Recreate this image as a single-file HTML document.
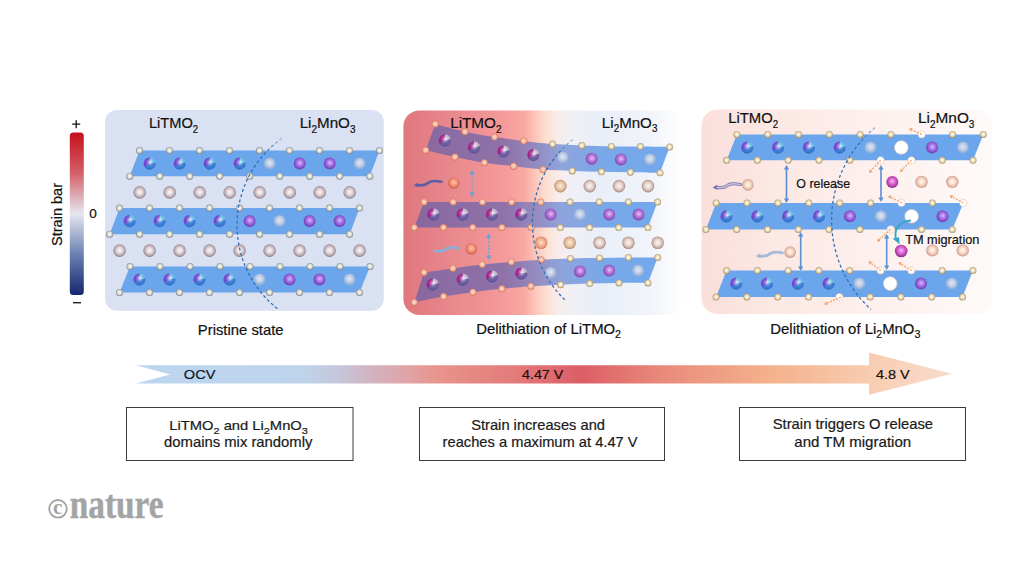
<!DOCTYPE html><html><head><meta charset="utf-8"><style>html,body{margin:0;padding:0;background:#fff;overflow:hidden;width:1024px;height:576px;}svg{display:block;}text{font-family:"Liberation Sans",sans-serif;}</style></head><body>
<svg width="1024" height="576" viewBox="0 0 1024 576">
<defs>
<radialGradient id="gO" cx="50%" cy="48%" r="55%"><stop offset="0" stop-color="#f6f6f2"/><stop offset="0.4" stop-color="#e8eae4"/><stop offset="0.7" stop-color="#b8bab4"/><stop offset="1" stop-color="#727474"/></radialGradient>
<radialGradient id="gOc" cx="50%" cy="48%" r="55%"><stop offset="0" stop-color="#fffcf0"/><stop offset="0.4" stop-color="#f2e8cc"/><stop offset="0.72" stop-color="#d0ba90"/><stop offset="1" stop-color="#9a8468"/></radialGradient>
<radialGradient id="gOo" cx="50%" cy="48%" r="55%"><stop offset="0" stop-color="#fcd8cc"/><stop offset="0.45" stop-color="#f6c4b0"/><stop offset="0.7" stop-color="#eca084"/><stop offset="0.88" stop-color="#d87c5e"/><stop offset="1" stop-color="#c47058"/></radialGradient>
<radialGradient id="gShade" cx="52%" cy="40%" r="60%"><stop offset="0" stop-color="#fff" stop-opacity="0.75"/><stop offset="0.35" stop-color="#fff" stop-opacity="0.25"/><stop offset="0.8" stop-color="#000" stop-opacity="0"/><stop offset="1" stop-color="#102060" stop-opacity="0.3"/></radialGradient>
<radialGradient id="gP" cx="52%" cy="45%" r="55%"><stop offset="0" stop-color="#d4bcff"/><stop offset="0.5" stop-color="#a06ce2"/><stop offset="1" stop-color="#6c38b4"/></radialGradient>
<radialGradient id="gLi2" cx="50%" cy="48%" r="55%"><stop offset="0" stop-color="#faf2f0"/><stop offset="0.4" stop-color="#ecdcd6"/><stop offset="0.72" stop-color="#ccb2aa"/><stop offset="1" stop-color="#927a74"/></radialGradient>
<radialGradient id="gLit" cx="50%" cy="48%" r="55%"><stop offset="0" stop-color="#fcecdc"/><stop offset="0.4" stop-color="#f0d0b4"/><stop offset="0.72" stop-color="#d8b090"/><stop offset="1" stop-color="#a88068"/></radialGradient>
<radialGradient id="gPm" cx="52%" cy="45%" r="55%"><stop offset="0" stop-color="#e8c0f8"/><stop offset="0.5" stop-color="#b276d8"/><stop offset="1" stop-color="#7e44ac"/></radialGradient>
<radialGradient id="gPale" cx="50%" cy="45%" r="50%"><stop offset="0" stop-color="#dde8f8"/><stop offset="0.6" stop-color="#bccbe4"/><stop offset="1" stop-color="#a4b4d0" stop-opacity="0.6"/></radialGradient>
<radialGradient id="gLi" cx="50%" cy="48%" r="55%"><stop offset="0" stop-color="#fbf4f6"/><stop offset="0.35" stop-color="#e8dee2"/><stop offset="0.7" stop-color="#bcaeb4"/><stop offset="1" stop-color="#7e7078"/></radialGradient>
<radialGradient id="gLip" cx="50%" cy="48%" r="55%"><stop offset="0" stop-color="#fff8e8"/><stop offset="0.35" stop-color="#fbe4d4"/><stop offset="0.7" stop-color="#eabcaa"/><stop offset="1" stop-color="#b88a84"/></radialGradient>
<radialGradient id="gLio" cx="50%" cy="48%" r="55%"><stop offset="0" stop-color="#fde0cc"/><stop offset="0.4" stop-color="#f6bc9c"/><stop offset="0.75" stop-color="#e49878"/><stop offset="1" stop-color="#b87058"/></radialGradient>
<radialGradient id="gLir" cx="50%" cy="45%" r="55%"><stop offset="0" stop-color="#ffc4ac"/><stop offset="0.5" stop-color="#f4947a"/><stop offset="0.85" stop-color="#dc6c54"/><stop offset="1" stop-color="#c05848"/></radialGradient>
<radialGradient id="gMag" cx="50%" cy="45%" r="55%"><stop offset="0" stop-color="#ffb4ff"/><stop offset="0.4" stop-color="#e070d8"/><stop offset="0.8" stop-color="#b03ca4"/><stop offset="1" stop-color="#8a2a84"/></radialGradient>
<linearGradient id="gBar" x1="0" y1="0" x2="0" y2="1"><stop offset="0" stop-color="#c60f1c"/><stop offset="0.25" stop-color="#d46068"/><stop offset="0.5" stop-color="#e6e6f0"/><stop offset="0.75" stop-color="#6a80b0"/><stop offset="1" stop-color="#13276e"/></linearGradient>
<linearGradient id="gP2" gradientUnits="userSpaceOnUse" x1="403" y1="0" x2="685" y2="0"><stop offset="0" stop-color="#df777e"/><stop offset="0.167" stop-color="#e8888c"/><stop offset="0.344" stop-color="#f4989a"/><stop offset="0.43" stop-color="#f9a8a2"/><stop offset="0.47" stop-color="#fcc6ba"/><stop offset="0.51" stop-color="#fde0d4"/><stop offset="0.55" stop-color="#f9ecea"/><stop offset="0.6" stop-color="#f0f0f6"/><stop offset="0.7" stop-color="#e9eef8"/><stop offset="0.88" stop-color="#f1f4fa"/><stop offset="0.97" stop-color="#fdfdfe"/><stop offset="1" stop-color="#ffffff"/></linearGradient>
<linearGradient id="gP3" gradientUnits="userSpaceOnUse" x1="702" y1="0" x2="992" y2="0"><stop offset="0" stop-color="#fbdfdb"/><stop offset="0.25" stop-color="#fce8e4"/><stop offset="0.5" stop-color="#fdeeeb"/><stop offset="0.75" stop-color="#fdf4f2"/><stop offset="1" stop-color="#fefaf9"/></linearGradient>
<linearGradient id="gSlab2" gradientUnits="userSpaceOnUse" x1="403" y1="0" x2="685" y2="0"><stop offset="0" stop-color="#88669e"/><stop offset="0.36" stop-color="#8e72a8"/><stop offset="0.46" stop-color="#9488bc"/><stop offset="0.56" stop-color="#8ea4dc"/><stop offset="0.72" stop-color="#78a8ea"/><stop offset="1" stop-color="#70a8ee"/></linearGradient>
<linearGradient id="gArrow" gradientUnits="userSpaceOnUse" x1="136" y1="0" x2="952" y2="0"><stop offset="0" stop-color="#bcd5ee"/><stop offset="0.2" stop-color="#bed4ec"/><stop offset="0.245" stop-color="#c4c8dc"/><stop offset="0.29" stop-color="#d2b2c0"/><stop offset="0.33" stop-color="#e0a4a8"/><stop offset="0.37" stop-color="#e8948c"/><stop offset="0.46" stop-color="#e37c7c"/><stop offset="0.545" stop-color="#dc5e66"/><stop offset="0.65" stop-color="#e98c7c"/><stop offset="0.77" stop-color="#f3b08a"/><stop offset="0.85" stop-color="#f6c2a2"/><stop offset="0.92" stop-color="#f8d0b8"/><stop offset="1" stop-color="#f9dccc"/></linearGradient>

</defs>
<rect width="1024" height="576" fill="#fff"/>
<rect x="69.8" y="132.5" width="14" height="162.5" rx="3.5" fill="url(#gBar)"/>
<path d="M72.2,124.2 H80.2 M76.2,120.2 V128.2" stroke="#111" stroke-width="1.3"/>
<path d="M73,302.7 H81" stroke="#222" stroke-width="1.4"/>
<rect x="105" y="110" width="278.8" height="200.8" rx="12" fill="#d9e1f3"/>
<path d="M139.5,150.5 L379.5,150.5 L369.7,176.2 L129.7,176.2 Z" fill="#6ba6ec"/>
<path d="M149.7,163.5 L149.70,157.50 A6,6 0 0 1 155.61,162.46 Z" fill="#6cc2ee"/>
<path d="M149.7,163.5 L155.61,162.46 A6,6 0 0 1 144.61,166.68 Z" fill="#3a7ede"/>
<path d="M149.7,163.5 L144.61,166.68 A6,6 0 0 1 149.70,157.50 Z" fill="#7448d8"/>
<circle cx="149.7" cy="163.5" r="6" fill="url(#gShade)"/>
<path d="M179.7,163.5 L179.70,157.50 A6,6 0 0 1 185.61,162.46 Z" fill="#6cc2ee"/>
<path d="M179.7,163.5 L185.61,162.46 A6,6 0 0 1 174.61,166.68 Z" fill="#3a7ede"/>
<path d="M179.7,163.5 L174.61,166.68 A6,6 0 0 1 179.70,157.50 Z" fill="#7448d8"/>
<circle cx="179.7" cy="163.5" r="6" fill="url(#gShade)"/>
<path d="M209.7,163.5 L209.70,157.50 A6,6 0 0 1 215.61,162.46 Z" fill="#6cc2ee"/>
<path d="M209.7,163.5 L215.61,162.46 A6,6 0 0 1 204.61,166.68 Z" fill="#3a7ede"/>
<path d="M209.7,163.5 L204.61,166.68 A6,6 0 0 1 209.70,157.50 Z" fill="#7448d8"/>
<circle cx="209.7" cy="163.5" r="6" fill="url(#gShade)"/>
<path d="M239.7,163.5 L239.70,157.50 A6,6 0 0 1 245.61,162.46 Z" fill="#6cc2ee"/>
<path d="M239.7,163.5 L245.61,162.46 A6,6 0 0 1 234.61,166.68 Z" fill="#3a7ede"/>
<path d="M239.7,163.5 L234.61,166.68 A6,6 0 0 1 239.70,157.50 Z" fill="#7448d8"/>
<circle cx="239.7" cy="163.5" r="6" fill="url(#gShade)"/>
<circle cx="269.7" cy="163.5" r="6" fill="url(#gPale)"/>
<circle cx="299.7" cy="163.5" r="6" fill="url(#gP)"/>
<circle cx="329.7" cy="163.5" r="6" fill="url(#gP)"/>
<circle cx="359.7" cy="163.5" r="6" fill="url(#gPale)"/>
<circle cx="139.5" cy="150.5" r="3.5" fill="url(#gO)"/>
<circle cx="169.5" cy="150.5" r="3.5" fill="url(#gO)"/>
<circle cx="199.5" cy="150.5" r="3.5" fill="url(#gO)"/>
<circle cx="229.5" cy="150.5" r="3.5" fill="url(#gO)"/>
<circle cx="259.5" cy="150.5" r="3.5" fill="url(#gO)"/>
<circle cx="289.5" cy="150.5" r="3.5" fill="url(#gO)"/>
<circle cx="319.5" cy="150.5" r="3.5" fill="url(#gO)"/>
<circle cx="349.5" cy="150.5" r="3.5" fill="url(#gO)"/>
<circle cx="379.5" cy="150.5" r="3.5" fill="url(#gO)"/>
<circle cx="129.7" cy="176.2" r="3.5" fill="url(#gO)"/>
<circle cx="159.7" cy="176.2" r="3.5" fill="url(#gO)"/>
<circle cx="189.7" cy="176.2" r="3.5" fill="url(#gO)"/>
<circle cx="219.7" cy="176.2" r="3.5" fill="url(#gO)"/>
<circle cx="249.7" cy="176.2" r="3.5" fill="url(#gO)"/>
<circle cx="279.7" cy="176.2" r="3.5" fill="url(#gO)"/>
<circle cx="309.7" cy="176.2" r="3.5" fill="url(#gO)"/>
<circle cx="339.7" cy="176.2" r="3.5" fill="url(#gO)"/>
<circle cx="369.7" cy="176.2" r="3.5" fill="url(#gO)"/>
<circle cx="139.7" cy="192.4" r="6.3" fill="url(#gLi)"/>
<circle cx="169.7" cy="192.4" r="6.3" fill="url(#gLi)"/>
<circle cx="199.7" cy="192.4" r="6.3" fill="url(#gLi)"/>
<circle cx="229.7" cy="192.4" r="6.3" fill="url(#gLi)"/>
<circle cx="259.7" cy="192.4" r="6.3" fill="url(#gLi)"/>
<circle cx="289.7" cy="192.4" r="6.3" fill="url(#gLi)"/>
<circle cx="319.7" cy="192.4" r="6.3" fill="url(#gLi)"/>
<circle cx="349.7" cy="192.4" r="6.3" fill="url(#gLi)"/>
<path d="M119.5,208.1 L359.5,208.1 L349.6,234.2 L109.6,234.2 Z" fill="#6ba6ec"/>
<path d="M129.6,221 L129.60,215.00 A6,6 0 0 1 135.51,219.96 Z" fill="#6cc2ee"/>
<path d="M129.6,221 L135.51,219.96 A6,6 0 0 1 124.51,224.18 Z" fill="#3a7ede"/>
<path d="M129.6,221 L124.51,224.18 A6,6 0 0 1 129.60,215.00 Z" fill="#7448d8"/>
<circle cx="129.6" cy="221" r="6" fill="url(#gShade)"/>
<path d="M159.6,221 L159.60,215.00 A6,6 0 0 1 165.51,219.96 Z" fill="#6cc2ee"/>
<path d="M159.6,221 L165.51,219.96 A6,6 0 0 1 154.51,224.18 Z" fill="#3a7ede"/>
<path d="M159.6,221 L154.51,224.18 A6,6 0 0 1 159.60,215.00 Z" fill="#7448d8"/>
<circle cx="159.6" cy="221" r="6" fill="url(#gShade)"/>
<path d="M189.6,221 L189.60,215.00 A6,6 0 0 1 195.51,219.96 Z" fill="#6cc2ee"/>
<path d="M189.6,221 L195.51,219.96 A6,6 0 0 1 184.51,224.18 Z" fill="#3a7ede"/>
<path d="M189.6,221 L184.51,224.18 A6,6 0 0 1 189.60,215.00 Z" fill="#7448d8"/>
<circle cx="189.6" cy="221" r="6" fill="url(#gShade)"/>
<path d="M219.6,221 L219.60,215.00 A6,6 0 0 1 225.51,219.96 Z" fill="#6cc2ee"/>
<path d="M219.6,221 L225.51,219.96 A6,6 0 0 1 214.51,224.18 Z" fill="#3a7ede"/>
<path d="M219.6,221 L214.51,224.18 A6,6 0 0 1 219.60,215.00 Z" fill="#7448d8"/>
<circle cx="219.6" cy="221" r="6" fill="url(#gShade)"/>
<circle cx="249.6" cy="221" r="6" fill="url(#gP)"/>
<circle cx="279.6" cy="221" r="6" fill="url(#gPale)"/>
<circle cx="309.6" cy="221" r="6" fill="url(#gP)"/>
<circle cx="339.6" cy="221" r="6" fill="url(#gP)"/>
<circle cx="119.5" cy="208.1" r="3.5" fill="url(#gO)"/>
<circle cx="149.5" cy="208.1" r="3.5" fill="url(#gO)"/>
<circle cx="179.5" cy="208.1" r="3.5" fill="url(#gO)"/>
<circle cx="209.5" cy="208.1" r="3.5" fill="url(#gO)"/>
<circle cx="239.5" cy="208.1" r="3.5" fill="url(#gO)"/>
<circle cx="269.5" cy="208.1" r="3.5" fill="url(#gO)"/>
<circle cx="299.5" cy="208.1" r="3.5" fill="url(#gO)"/>
<circle cx="329.5" cy="208.1" r="3.5" fill="url(#gO)"/>
<circle cx="359.5" cy="208.1" r="3.5" fill="url(#gO)"/>
<circle cx="109.6" cy="234.2" r="3.5" fill="url(#gO)"/>
<circle cx="139.6" cy="234.2" r="3.5" fill="url(#gO)"/>
<circle cx="169.6" cy="234.2" r="3.5" fill="url(#gO)"/>
<circle cx="199.6" cy="234.2" r="3.5" fill="url(#gO)"/>
<circle cx="229.6" cy="234.2" r="3.5" fill="url(#gO)"/>
<circle cx="259.6" cy="234.2" r="3.5" fill="url(#gO)"/>
<circle cx="289.6" cy="234.2" r="3.5" fill="url(#gO)"/>
<circle cx="319.6" cy="234.2" r="3.5" fill="url(#gO)"/>
<circle cx="349.6" cy="234.2" r="3.5" fill="url(#gO)"/>
<circle cx="119.6" cy="250.6" r="6.3" fill="url(#gLi)"/>
<circle cx="149.6" cy="250.6" r="6.3" fill="url(#gLi)"/>
<circle cx="179.6" cy="250.6" r="6.3" fill="url(#gLi)"/>
<circle cx="209.6" cy="250.6" r="6.3" fill="url(#gLi)"/>
<circle cx="239.6" cy="250.6" r="6.3" fill="url(#gLi)"/>
<circle cx="269.6" cy="250.6" r="6.3" fill="url(#gLi)"/>
<circle cx="299.6" cy="250.6" r="6.3" fill="url(#gLi)"/>
<circle cx="329.6" cy="250.6" r="6.3" fill="url(#gLi)"/>
<circle cx="359.6" cy="250.6" r="6.3" fill="url(#gLi)"/>
<path d="M130,266.5 L370,266.5 L359.5,292.5 L119.5,292.5 Z" fill="#6ba6ec"/>
<path d="M139.5,279.4 L139.50,273.40 A6,6 0 0 1 145.41,278.36 Z" fill="#6cc2ee"/>
<path d="M139.5,279.4 L145.41,278.36 A6,6 0 0 1 134.41,282.58 Z" fill="#3a7ede"/>
<path d="M139.5,279.4 L134.41,282.58 A6,6 0 0 1 139.50,273.40 Z" fill="#7448d8"/>
<circle cx="139.5" cy="279.4" r="6" fill="url(#gShade)"/>
<path d="M169.5,279.4 L169.50,273.40 A6,6 0 0 1 175.41,278.36 Z" fill="#6cc2ee"/>
<path d="M169.5,279.4 L175.41,278.36 A6,6 0 0 1 164.41,282.58 Z" fill="#3a7ede"/>
<path d="M169.5,279.4 L164.41,282.58 A6,6 0 0 1 169.50,273.40 Z" fill="#7448d8"/>
<circle cx="169.5" cy="279.4" r="6" fill="url(#gShade)"/>
<path d="M199.5,279.4 L199.50,273.40 A6,6 0 0 1 205.41,278.36 Z" fill="#6cc2ee"/>
<path d="M199.5,279.4 L205.41,278.36 A6,6 0 0 1 194.41,282.58 Z" fill="#3a7ede"/>
<path d="M199.5,279.4 L194.41,282.58 A6,6 0 0 1 199.50,273.40 Z" fill="#7448d8"/>
<circle cx="199.5" cy="279.4" r="6" fill="url(#gShade)"/>
<path d="M229.5,279.4 L229.50,273.40 A6,6 0 0 1 235.41,278.36 Z" fill="#6cc2ee"/>
<path d="M229.5,279.4 L235.41,278.36 A6,6 0 0 1 224.41,282.58 Z" fill="#3a7ede"/>
<path d="M229.5,279.4 L224.41,282.58 A6,6 0 0 1 229.50,273.40 Z" fill="#7448d8"/>
<circle cx="229.5" cy="279.4" r="6" fill="url(#gShade)"/>
<circle cx="259.5" cy="279.4" r="6" fill="url(#gPale)"/>
<circle cx="289.5" cy="279.4" r="6" fill="url(#gP)"/>
<circle cx="319.5" cy="279.4" r="6" fill="url(#gP)"/>
<circle cx="349.5" cy="279.4" r="6" fill="url(#gPale)"/>
<circle cx="130" cy="266.5" r="3.5" fill="url(#gO)"/>
<circle cx="160" cy="266.5" r="3.5" fill="url(#gO)"/>
<circle cx="190" cy="266.5" r="3.5" fill="url(#gO)"/>
<circle cx="220" cy="266.5" r="3.5" fill="url(#gO)"/>
<circle cx="250" cy="266.5" r="3.5" fill="url(#gO)"/>
<circle cx="280" cy="266.5" r="3.5" fill="url(#gO)"/>
<circle cx="310" cy="266.5" r="3.5" fill="url(#gO)"/>
<circle cx="340" cy="266.5" r="3.5" fill="url(#gO)"/>
<circle cx="370" cy="266.5" r="3.5" fill="url(#gO)"/>
<circle cx="119.5" cy="292.5" r="3.5" fill="url(#gO)"/>
<circle cx="149.5" cy="292.5" r="3.5" fill="url(#gO)"/>
<circle cx="179.5" cy="292.5" r="3.5" fill="url(#gO)"/>
<circle cx="209.5" cy="292.5" r="3.5" fill="url(#gO)"/>
<circle cx="239.5" cy="292.5" r="3.5" fill="url(#gO)"/>
<circle cx="269.5" cy="292.5" r="3.5" fill="url(#gO)"/>
<circle cx="299.5" cy="292.5" r="3.5" fill="url(#gO)"/>
<circle cx="329.5" cy="292.5" r="3.5" fill="url(#gO)"/>
<circle cx="359.5" cy="292.5" r="3.5" fill="url(#gO)"/>
<linearGradient id="ga1" gradientUnits="userSpaceOnUse" x1="0" y1="138.3" x2="0" y2="152.3"><stop offset="0" stop-color="#9cbce0"/><stop offset="1" stop-color="#2f6db5"/></linearGradient>
<path d="M282.0,138.3 A106.4,106.4 0 0 0 278.4,309.4" fill="none" stroke="url(#ga1)" stroke-width="1.25" stroke-dasharray="3 2.4"/>
<rect x="403.4" y="110.4" width="282" height="204.6" rx="16" fill="url(#gP2)"/>
<path d="M435.3,124.1 C440.2,125.4 455.0,129.6 464.9,131.8 C474.8,134.0 484.7,135.6 494.5,137.1 C504.3,138.6 514.0,139.7 523.7,140.9 C533.4,142.1 542.9,143.3 552.6,144.1 C562.3,144.9 572.0,145.1 581.8,145.5 C591.6,145.9 601.6,146.2 611.4,146.4 C621.2,146.6 630.7,146.5 640.4,146.6 C650.1,146.7 664.7,146.9 669.6,147.0 L660.0,172.8 C655.1,172.7 640.2,172.4 630.4,172.2 C620.6,172.0 611.1,172.0 601.4,171.8 C591.7,171.6 581.9,171.3 572.2,170.9 C562.5,170.5 552.8,170.3 543.0,169.5 C533.2,168.7 523.4,167.3 513.6,166.2 C503.8,165.1 494.2,164.2 484.4,162.7 C474.6,161.2 464.7,159.1 454.9,157.0 C445.1,154.9 430.6,151.4 425.7,150.3 Z" fill="url(#gSlab2)"/>
<path d="M444.8,140.4 L444.80,134.40 A6,6 0 0 1 450.71,139.36 Z" fill="#cabed6"/>
<path d="M444.8,140.4 L450.71,139.36 A6,6 0 0 1 439.71,143.58 Z" fill="#6e5ea6"/>
<path d="M444.8,140.4 L439.71,143.58 A6,6 0 0 1 444.80,134.40 Z" fill="#a82290"/>
<circle cx="444.8" cy="140.4" r="6" fill="url(#gShade)"/>
<path d="M474,147.4 L474.00,141.40 A6,6 0 0 1 479.91,146.36 Z" fill="#cabed6"/>
<path d="M474,147.4 L479.91,146.36 A6,6 0 0 1 468.91,150.58 Z" fill="#6e5ea6"/>
<path d="M474,147.4 L468.91,150.58 A6,6 0 0 1 474.00,141.40 Z" fill="#a82290"/>
<circle cx="474" cy="147.4" r="6" fill="url(#gShade)"/>
<path d="M503.5,151.4 L503.50,145.40 A6,6 0 0 1 509.41,150.36 Z" fill="#cabed6"/>
<path d="M503.5,151.4 L509.41,150.36 A6,6 0 0 1 498.41,154.58 Z" fill="#6e5ea6"/>
<path d="M503.5,151.4 L498.41,154.58 A6,6 0 0 1 503.50,145.40 Z" fill="#a82290"/>
<circle cx="503.5" cy="151.4" r="6" fill="url(#gShade)"/>
<path d="M533.3,155 L533.30,149.00 A6,6 0 0 1 539.21,153.96 Z" fill="#cabed6"/>
<path d="M533.3,155 L539.21,153.96 A6,6 0 0 1 528.21,158.18 Z" fill="#6e5ea6"/>
<path d="M533.3,155 L528.21,158.18 A6,6 0 0 1 533.30,149.00 Z" fill="#a82290"/>
<circle cx="533.3" cy="155" r="6" fill="url(#gShade)"/>
<circle cx="562.7" cy="157.5" r="6" fill="url(#gPale)"/>
<circle cx="591.7" cy="158.8" r="6" fill="url(#gPm)"/>
<circle cx="620.9" cy="159.4" r="6" fill="url(#gPm)"/>
<circle cx="649.9" cy="159.4" r="6" fill="url(#gPale)"/>
<circle cx="435.3" cy="124.1" r="3.5" fill="url(#gOo)"/>
<circle cx="464.9" cy="131.8" r="3.5" fill="url(#gOo)"/>
<circle cx="494.5" cy="137.1" r="3.5" fill="url(#gOo)"/>
<circle cx="523.7" cy="140.9" r="3.5" fill="url(#gOo)"/>
<circle cx="552.6" cy="144.1" r="3.5" fill="url(#gOc)"/>
<circle cx="581.8" cy="145.5" r="3.5" fill="url(#gOc)"/>
<circle cx="611.4" cy="146.4" r="3.5" fill="url(#gOc)"/>
<circle cx="640.4" cy="146.6" r="3.5" fill="url(#gOc)"/>
<circle cx="669.6" cy="147" r="3.5" fill="url(#gOc)"/>
<circle cx="425.7" cy="150.3" r="3.5" fill="url(#gOo)"/>
<circle cx="454.9" cy="157" r="3.5" fill="url(#gOo)"/>
<circle cx="484.4" cy="162.7" r="3.5" fill="url(#gOo)"/>
<circle cx="513.6" cy="166.2" r="3.5" fill="url(#gOo)"/>
<circle cx="543" cy="169.5" r="3.5" fill="url(#gOo)"/>
<circle cx="572.2" cy="170.9" r="3.5" fill="url(#gOc)"/>
<circle cx="601.4" cy="171.8" r="3.5" fill="url(#gOc)"/>
<circle cx="630.4" cy="172.2" r="3.5" fill="url(#gOc)"/>
<circle cx="660" cy="172.8" r="3.5" fill="url(#gOc)"/>
<path d="M441.5,181.8 C434.9,180.5 430.4,180.6 427.7,183.2 S420.8,185.4 417,185" fill="none" stroke="#5a5ea8" stroke-width="2.6" stroke-linecap="round"/>
<path d="M413.5,185.2 L418.5,182.4 L417.5,185.3 L419,187.6 Z" fill="#5a5ea8"/>
<circle cx="453.8" cy="183" r="5.8" fill="url(#gLir)"/>
<line x1="472.1" y1="174" x2="472.1" y2="192.7" stroke="#6aa0dc" stroke-width="1.2" stroke-dasharray="2 1.5"/>
<path d="M472.1,170 L474.7,174.5 L469.5,174.5 Z" fill="#6aa0dc"/>
<path d="M472.1,196.7 L474.7,192.2 L469.5,192.2 Z" fill="#6aa0dc"/>
<circle cx="560.4" cy="186.1" r="6.3" fill="url(#gLit)"/>
<circle cx="589.8" cy="186.1" r="6.3" fill="url(#gLi2)"/>
<circle cx="619" cy="186.1" r="6.3" fill="url(#gLi2)"/>
<circle cx="648" cy="186.1" r="6.3" fill="url(#gLi2)"/>
<path d="M424,202 L657.6,202 L647.9,227.6 L414.3,227.6 Z" fill="url(#gSlab2)"/>
<path d="M433.4,214.5 L433.40,208.50 A6,6 0 0 1 439.31,213.46 Z" fill="#cabed6"/>
<path d="M433.4,214.5 L439.31,213.46 A6,6 0 0 1 428.31,217.68 Z" fill="#6e5ea6"/>
<path d="M433.4,214.5 L428.31,217.68 A6,6 0 0 1 433.40,208.50 Z" fill="#a82290"/>
<circle cx="433.4" cy="214.5" r="6" fill="url(#gShade)"/>
<path d="M462.7,214.5 L462.70,208.50 A6,6 0 0 1 468.61,213.46 Z" fill="#cabed6"/>
<path d="M462.7,214.5 L468.61,213.46 A6,6 0 0 1 457.61,217.68 Z" fill="#6e5ea6"/>
<path d="M462.7,214.5 L457.61,217.68 A6,6 0 0 1 462.70,208.50 Z" fill="#a82290"/>
<circle cx="462.7" cy="214.5" r="6" fill="url(#gShade)"/>
<path d="M492,214.5 L492.00,208.50 A6,6 0 0 1 497.91,213.46 Z" fill="#cabed6"/>
<path d="M492,214.5 L497.91,213.46 A6,6 0 0 1 486.91,217.68 Z" fill="#6e5ea6"/>
<path d="M492,214.5 L486.91,217.68 A6,6 0 0 1 492.00,208.50 Z" fill="#a82290"/>
<circle cx="492" cy="214.5" r="6" fill="url(#gShade)"/>
<path d="M521.3,214.5 L521.30,208.50 A6,6 0 0 1 527.21,213.46 Z" fill="#cabed6"/>
<path d="M521.3,214.5 L527.21,213.46 A6,6 0 0 1 516.21,217.68 Z" fill="#6e5ea6"/>
<path d="M521.3,214.5 L516.21,217.68 A6,6 0 0 1 521.30,208.50 Z" fill="#a82290"/>
<circle cx="521.3" cy="214.5" r="6" fill="url(#gShade)"/>
<circle cx="550.6" cy="214.5" r="6" fill="url(#gPm)"/>
<circle cx="579.9" cy="214.5" r="6" fill="url(#gPale)"/>
<circle cx="609.2" cy="214.5" r="6" fill="url(#gPm)"/>
<circle cx="638.5" cy="214.5" r="6" fill="url(#gPm)"/>
<circle cx="424" cy="202" r="3.5" fill="url(#gOo)"/>
<circle cx="453.2" cy="202" r="3.5" fill="url(#gOo)"/>
<circle cx="482.4" cy="202" r="3.5" fill="url(#gOo)"/>
<circle cx="511.6" cy="202" r="3.5" fill="url(#gOo)"/>
<circle cx="540.8" cy="202" r="3.5" fill="url(#gOo)"/>
<circle cx="570" cy="202" r="3.5" fill="url(#gOc)"/>
<circle cx="599.2" cy="202" r="3.5" fill="url(#gOc)"/>
<circle cx="628.4" cy="202" r="3.5" fill="url(#gOc)"/>
<circle cx="657.6" cy="202" r="3.5" fill="url(#gOc)"/>
<circle cx="414.3" cy="227.6" r="3.5" fill="url(#gOo)"/>
<circle cx="443.5" cy="227.6" r="3.5" fill="url(#gOo)"/>
<circle cx="472.7" cy="227.6" r="3.5" fill="url(#gOo)"/>
<circle cx="501.9" cy="227.6" r="3.5" fill="url(#gOo)"/>
<circle cx="531.1" cy="227.6" r="3.5" fill="url(#gOo)"/>
<circle cx="560.3" cy="227.6" r="3.5" fill="url(#gOc)"/>
<circle cx="589.5" cy="227.6" r="3.5" fill="url(#gOc)"/>
<circle cx="618.7" cy="227.6" r="3.5" fill="url(#gOc)"/>
<circle cx="647.9" cy="227.6" r="3.5" fill="url(#gOc)"/>
<path d="M458.8,248.2 C452.4,246.9 448,247 445.4,249.5 S438.7,251.4 435,251" fill="none" stroke="#86b0e0" stroke-width="2.6" stroke-linecap="round"/>
<circle cx="471.4" cy="248.8" r="5.8" fill="url(#gLir)"/>
<line x1="488.7" y1="237.6" x2="488.7" y2="256.1" stroke="#6aa0dc" stroke-width="1.2" stroke-dasharray="2 1.5"/>
<path d="M488.7,233.6 L491.3,238.1 L486.1,238.1 Z" fill="#6aa0dc"/>
<path d="M488.7,260.1 L491.3,255.6 L486.1,255.6 Z" fill="#6aa0dc"/>
<circle cx="541.1" cy="242.8" r="6.3" fill="url(#gLio)"/>
<circle cx="569.7" cy="242.8" r="6.3" fill="url(#gLit)"/>
<circle cx="599.5" cy="242.8" r="6.3" fill="url(#gLi2)"/>
<circle cx="628.4" cy="242.8" r="6.3" fill="url(#gLi2)"/>
<circle cx="657.7" cy="242.8" r="6.3" fill="url(#gLi2)"/>
<path d="M424.0,272.5 C428.8,271.8 443.2,269.7 452.9,268.4 C462.6,267.1 472.5,265.6 482.2,264.5 C491.9,263.4 501.5,262.7 511.3,261.9 C521.1,261.1 531.2,260.3 541.1,259.7 C551.0,259.1 560.7,258.7 570.4,258.4 C580.1,258.1 589.8,258.1 599.5,258.0 C609.2,257.9 618.7,257.6 628.4,257.5 C638.1,257.4 652.8,257.5 657.7,257.5 L647.9,282.9 C643.1,282.9 628.7,282.8 619.0,282.9 C609.3,283.0 599.4,283.3 589.7,283.6 C580.0,283.9 570.4,284.3 560.6,284.7 C550.8,285.1 540.6,285.5 530.8,286.2 C521.0,286.9 511.4,287.8 501.8,288.8 C492.2,289.8 482.6,290.9 472.9,292.2 C463.2,293.5 453.4,294.9 443.6,296.6 C433.8,298.3 419.2,301.4 414.3,302.4 Z" fill="url(#gSlab2)"/>
<path d="M432.7,284.4 L432.70,278.40 A6,6 0 0 1 438.61,283.36 Z" fill="#cabed6"/>
<path d="M432.7,284.4 L438.61,283.36 A6,6 0 0 1 427.61,287.58 Z" fill="#6e5ea6"/>
<path d="M432.7,284.4 L427.61,287.58 A6,6 0 0 1 432.70,278.40 Z" fill="#a82290"/>
<circle cx="432.7" cy="284.4" r="6" fill="url(#gShade)"/>
<path d="M462.7,279.7 L462.70,273.70 A6,6 0 0 1 468.61,278.66 Z" fill="#cabed6"/>
<path d="M462.7,279.7 L468.61,278.66 A6,6 0 0 1 457.61,282.88 Z" fill="#6e5ea6"/>
<path d="M462.7,279.7 L457.61,282.88 A6,6 0 0 1 462.70,273.70 Z" fill="#a82290"/>
<circle cx="462.7" cy="279.7" r="6" fill="url(#gShade)"/>
<path d="M492,276.4 L492.00,270.40 A6,6 0 0 1 497.91,275.36 Z" fill="#cabed6"/>
<path d="M492,276.4 L497.91,275.36 A6,6 0 0 1 486.91,279.58 Z" fill="#6e5ea6"/>
<path d="M492,276.4 L486.91,279.58 A6,6 0 0 1 492.00,270.40 Z" fill="#a82290"/>
<circle cx="492" cy="276.4" r="6" fill="url(#gShade)"/>
<path d="M521.3,273.6 L521.30,267.60 A6,6 0 0 1 527.21,272.56 Z" fill="#cabed6"/>
<path d="M521.3,273.6 L527.21,272.56 A6,6 0 0 1 516.21,276.78 Z" fill="#6e5ea6"/>
<path d="M521.3,273.6 L516.21,276.78 A6,6 0 0 1 521.30,267.60 Z" fill="#a82290"/>
<circle cx="521.3" cy="273.6" r="6" fill="url(#gShade)"/>
<circle cx="550.6" cy="272.7" r="6" fill="url(#gPale)"/>
<circle cx="579.9" cy="271.4" r="6" fill="url(#gPm)"/>
<circle cx="609.2" cy="270.6" r="6" fill="url(#gPm)"/>
<circle cx="638.1" cy="270.6" r="6" fill="url(#gPale)"/>
<circle cx="424" cy="272.5" r="3.5" fill="url(#gOo)"/>
<circle cx="452.9" cy="268.4" r="3.5" fill="url(#gOo)"/>
<circle cx="482.2" cy="264.5" r="3.5" fill="url(#gOo)"/>
<circle cx="511.3" cy="261.9" r="3.5" fill="url(#gOo)"/>
<circle cx="541.1" cy="259.7" r="3.5" fill="url(#gOo)"/>
<circle cx="570.4" cy="258.4" r="3.5" fill="url(#gOc)"/>
<circle cx="599.5" cy="258" r="3.5" fill="url(#gOc)"/>
<circle cx="628.4" cy="257.5" r="3.5" fill="url(#gOc)"/>
<circle cx="657.7" cy="257.5" r="3.5" fill="url(#gOc)"/>
<circle cx="414.3" cy="302.4" r="3.5" fill="url(#gOo)"/>
<circle cx="443.6" cy="296.6" r="3.5" fill="url(#gOo)"/>
<circle cx="472.9" cy="292.2" r="3.5" fill="url(#gOo)"/>
<circle cx="501.8" cy="288.8" r="3.5" fill="url(#gOo)"/>
<circle cx="530.8" cy="286.2" r="3.5" fill="url(#gOo)"/>
<circle cx="560.6" cy="284.7" r="3.5" fill="url(#gOc)"/>
<circle cx="589.7" cy="283.6" r="3.5" fill="url(#gOc)"/>
<circle cx="619" cy="282.9" r="3.5" fill="url(#gOc)"/>
<circle cx="647.9" cy="282.9" r="3.5" fill="url(#gOc)"/>
<linearGradient id="ga2" gradientUnits="userSpaceOnUse" x1="0" y1="139.5" x2="0" y2="153.5"><stop offset="0" stop-color="#9cbce0"/><stop offset="1" stop-color="#2f6db5"/></linearGradient>
<path d="M572.7,139.5 A107.0,107.0 0 0 0 564.8,299.9" fill="none" stroke="url(#ga2)" stroke-width="1.25" stroke-dasharray="3 2.4"/>
<rect x="701.5" y="109.5" width="290.5" height="204.5" rx="16" fill="url(#gP3)"/>
<path d="M736.9,134.4 L983.3,134.4 L973,160.3 L726.6,160.3 Z" fill="#6ba6ec"/>
<path d="M747.3,147.5 L747.30,141.50 A6,6 0 0 1 753.21,146.46 Z" fill="#6cc2ee"/>
<path d="M747.3,147.5 L753.21,146.46 A6,6 0 0 1 742.21,150.68 Z" fill="#3a7ede"/>
<path d="M747.3,147.5 L742.21,150.68 A6,6 0 0 1 747.30,141.50 Z" fill="#7448d8"/>
<circle cx="747.3" cy="147.5" r="6" fill="url(#gShade)"/>
<path d="M778.1,147.5 L778.10,141.50 A6,6 0 0 1 784.01,146.46 Z" fill="#6cc2ee"/>
<path d="M778.1,147.5 L784.01,146.46 A6,6 0 0 1 773.01,150.68 Z" fill="#3a7ede"/>
<path d="M778.1,147.5 L773.01,150.68 A6,6 0 0 1 778.10,141.50 Z" fill="#7448d8"/>
<circle cx="778.1" cy="147.5" r="6" fill="url(#gShade)"/>
<path d="M808.9,147.5 L808.90,141.50 A6,6 0 0 1 814.81,146.46 Z" fill="#6cc2ee"/>
<path d="M808.9,147.5 L814.81,146.46 A6,6 0 0 1 803.81,150.68 Z" fill="#3a7ede"/>
<path d="M808.9,147.5 L803.81,150.68 A6,6 0 0 1 808.90,141.50 Z" fill="#7448d8"/>
<circle cx="808.9" cy="147.5" r="6" fill="url(#gShade)"/>
<path d="M839.7,147.5 L839.70,141.50 A6,6 0 0 1 845.61,146.46 Z" fill="#6cc2ee"/>
<path d="M839.7,147.5 L845.61,146.46 A6,6 0 0 1 834.61,150.68 Z" fill="#3a7ede"/>
<path d="M839.7,147.5 L834.61,150.68 A6,6 0 0 1 839.70,141.50 Z" fill="#7448d8"/>
<circle cx="839.7" cy="147.5" r="6" fill="url(#gShade)"/>
<circle cx="870.5" cy="147.5" r="6" fill="url(#gPale)"/>
<circle cx="901.3" cy="147.5" r="6.8" fill="#fff" stroke="#e8c8b0" stroke-width="0.9" stroke-dasharray="2 1"/>
<circle cx="932.1" cy="147.5" r="6" fill="url(#gP)"/>
<circle cx="962.9" cy="147.5" r="6" fill="url(#gPale)"/>
<circle cx="736.9" cy="134.4" r="3.5" fill="url(#gOc)"/>
<circle cx="767.7" cy="134.4" r="3.5" fill="url(#gOc)"/>
<circle cx="798.5" cy="134.4" r="3.5" fill="url(#gOc)"/>
<circle cx="829.3" cy="134.4" r="3.5" fill="url(#gOc)"/>
<circle cx="860.1" cy="134.4" r="3.5" fill="url(#gOc)"/>
<circle cx="890.9" cy="134.4" r="3.5" fill="url(#gOc)"/>
<circle cx="921.7" cy="134.4" r="3.6" fill="#fff" stroke="#f0b088" stroke-width="0.9" stroke-dasharray="1.4 1"/>
<circle cx="952.5" cy="134.4" r="3.5" fill="url(#gOc)"/>
<circle cx="983.3" cy="134.4" r="3.5" fill="url(#gOc)"/>
<circle cx="726.6" cy="160.3" r="3.5" fill="url(#gOc)"/>
<circle cx="757.4" cy="160.3" r="3.5" fill="url(#gOc)"/>
<circle cx="788.2" cy="160.3" r="3.5" fill="url(#gOc)"/>
<circle cx="819" cy="160.3" r="3.5" fill="url(#gOc)"/>
<circle cx="849.8" cy="160.3" r="3.5" fill="url(#gOc)"/>
<circle cx="880.6" cy="160.3" r="3.6" fill="#fff" stroke="#f0b088" stroke-width="0.9" stroke-dasharray="1.4 1"/>
<circle cx="911.4" cy="160.3" r="3.6" fill="#fff" stroke="#f0b088" stroke-width="0.9" stroke-dasharray="1.4 1"/>
<circle cx="942.2" cy="160.3" r="3.5" fill="url(#gOc)"/>
<circle cx="973" cy="160.3" r="3.5" fill="url(#gOc)"/>
<path d="M740.5,184.5 C733.9,183.2 729.4,183.3 726.7,185.8 S719.8,187.7 716,187.3" fill="none" stroke="#7870a6" stroke-width="3.2" stroke-linecap="round"/>
<path d="M740.5,184.5 C733.9,183.2 729.4,183.3 726.7,185.8 S719.8,187.7 716,187.3" fill="none" stroke="#c8c0e0" stroke-width="1.7000000000000002" stroke-linecap="round"/>
<path d="M712.5,187.5 L717.5,184.7 L716.5,187.6 L718,189.9 Z" fill="#7870a6"/>
<circle cx="747.9" cy="184.9" r="5.8" fill="url(#gLip)"/>
<line x1="786.5" y1="168.9" x2="786.5" y2="198.9" stroke="#5890d2" stroke-width="1.6"/>
<path d="M786.5,164.9 L789.1,169.4 L783.9,169.4 Z" fill="#5890d2"/>
<path d="M786.5,202.9 L789.1,198.4 L783.9,198.4 Z" fill="#5890d2"/>
<line x1="881" y1="168.9" x2="881" y2="197.9" stroke="#5890d2" stroke-width="1.6"/>
<path d="M881,164.9 L883.6,169.4 L878.4,169.4 Z" fill="#5890d2"/>
<path d="M881,201.9 L883.6,197.4 L878.4,197.4 Z" fill="#5890d2"/>
<circle cx="892.3" cy="181.9" r="6" fill="url(#gMag)"/>
<circle cx="921.5" cy="181.9" r="6.2" fill="url(#gLip)"/>
<circle cx="952.3" cy="181.9" r="6.2" fill="url(#gLip)"/>
<path d="M716.1,203 L963.3,203 L952.3,229.5 L705.9,229.5 Z" fill="#6ba6ec"/>
<path d="M726.5,216.3 L726.50,210.30 A6,6 0 0 1 732.41,215.26 Z" fill="#6cc2ee"/>
<path d="M726.5,216.3 L732.41,215.26 A6,6 0 0 1 721.41,219.48 Z" fill="#3a7ede"/>
<path d="M726.5,216.3 L721.41,219.48 A6,6 0 0 1 726.50,210.30 Z" fill="#7448d8"/>
<circle cx="726.5" cy="216.3" r="6" fill="url(#gShade)"/>
<path d="M757.4,216.3 L757.35,210.30 A6,6 0 0 1 763.26,215.26 Z" fill="#6cc2ee"/>
<path d="M757.4,216.3 L763.26,215.26 A6,6 0 0 1 752.26,219.48 Z" fill="#3a7ede"/>
<path d="M757.4,216.3 L752.26,219.48 A6,6 0 0 1 757.35,210.30 Z" fill="#7448d8"/>
<circle cx="757.4" cy="216.3" r="6" fill="url(#gShade)"/>
<path d="M788.2,216.3 L788.20,210.30 A6,6 0 0 1 794.11,215.26 Z" fill="#6cc2ee"/>
<path d="M788.2,216.3 L794.11,215.26 A6,6 0 0 1 783.11,219.48 Z" fill="#3a7ede"/>
<path d="M788.2,216.3 L783.11,219.48 A6,6 0 0 1 788.20,210.30 Z" fill="#7448d8"/>
<circle cx="788.2" cy="216.3" r="6" fill="url(#gShade)"/>
<path d="M819,216.3 L819.05,210.30 A6,6 0 0 1 824.96,215.26 Z" fill="#6cc2ee"/>
<path d="M819,216.3 L824.96,215.26 A6,6 0 0 1 813.96,219.48 Z" fill="#3a7ede"/>
<path d="M819,216.3 L813.96,219.48 A6,6 0 0 1 819.05,210.30 Z" fill="#7448d8"/>
<circle cx="819" cy="216.3" r="6" fill="url(#gShade)"/>
<circle cx="849.9" cy="216.3" r="6" fill="url(#gP)"/>
<circle cx="880.8" cy="216.3" r="6" fill="url(#gPale)"/>
<circle cx="911.6" cy="216.3" r="6.8" fill="#fff" stroke="#e8c8b0" stroke-width="0.9" stroke-dasharray="2 1"/>
<circle cx="942.5" cy="216.3" r="6" fill="url(#gP)"/>
<circle cx="716.1" cy="203" r="3.5" fill="url(#gOc)"/>
<circle cx="747" cy="203" r="3.5" fill="url(#gOc)"/>
<circle cx="777.9" cy="203" r="3.5" fill="url(#gOc)"/>
<circle cx="808.8" cy="203" r="3.5" fill="url(#gOc)"/>
<circle cx="839.7" cy="203" r="3.5" fill="url(#gOc)"/>
<circle cx="870.6" cy="203" r="3.5" fill="url(#gOc)"/>
<circle cx="901.5" cy="203" r="3.6" fill="#fff" stroke="#f0b088" stroke-width="0.9" stroke-dasharray="1.4 1"/>
<circle cx="932.4" cy="203" r="3.5" fill="url(#gOc)"/>
<circle cx="963.3" cy="203" r="3.6" fill="#fff" stroke="#f0b088" stroke-width="0.9" stroke-dasharray="1.4 1"/>
<circle cx="705.9" cy="229.5" r="3.5" fill="url(#gOc)"/>
<circle cx="736.7" cy="229.5" r="3.5" fill="url(#gOc)"/>
<circle cx="767.5" cy="229.5" r="3.5" fill="url(#gOc)"/>
<circle cx="798.3" cy="229.5" r="3.5" fill="url(#gOc)"/>
<circle cx="829.1" cy="229.5" r="3.5" fill="url(#gOc)"/>
<circle cx="859.9" cy="229.5" r="3.5" fill="url(#gOc)"/>
<circle cx="890.7" cy="229.5" r="3.7" fill="#fff4e8" stroke="#f0d8c0" stroke-width="0.8"/>
<circle cx="921.5" cy="229.5" r="3.5" fill="url(#gOc)"/>
<circle cx="952.3" cy="229.5" r="3.5" fill="url(#gOc)"/>
<path d="M782.5,252.8 C776.1,251.5 771.8,251.6 769.2,254.2 S762.6,256.2 759,255.8" fill="none" stroke="#a8b8d8" stroke-width="2.8" stroke-linecap="round"/>
<path d="M755.5,256 L760.5,253.2 L759.5,256.1 L761,258.4 Z" fill="#a8b8d8"/>
<circle cx="790.1" cy="252.1" r="5.8" fill="url(#gLip)"/>
<line x1="800.7" y1="235.9" x2="800.7" y2="267" stroke="#5890d2" stroke-width="1.6"/>
<path d="M800.7,231.9 L803.3,236.4 L798.1,236.4 Z" fill="#5890d2"/>
<path d="M800.7,271 L803.3,266.5 L798.1,266.5 Z" fill="#5890d2"/>
<line x1="886.7" y1="238" x2="886.7" y2="265.9" stroke="#5890d2" stroke-width="1.6"/>
<path d="M886.7,234 L889.3,238.5 L884.1,238.5 Z" fill="#5890d2"/>
<path d="M886.7,269.9 L889.3,265.4 L884.1,265.4 Z" fill="#5890d2"/>
<circle cx="901.2" cy="251" r="6.3" fill="url(#gMag)"/>
<circle cx="932.3" cy="250.4" r="6.2" fill="url(#gLip)"/>
<circle cx="962.7" cy="250.4" r="6.2" fill="url(#gLip)"/>
<path d="M726.5,270.5 L972.9,270.5 L962.5,297 L716.1,297 Z" fill="#6ba6ec"/>
<path d="M736.2,283.6 L736.20,277.60 A6,6 0 0 1 742.11,282.56 Z" fill="#6cc2ee"/>
<path d="M736.2,283.6 L742.11,282.56 A6,6 0 0 1 731.11,286.78 Z" fill="#3a7ede"/>
<path d="M736.2,283.6 L731.11,286.78 A6,6 0 0 1 736.20,277.60 Z" fill="#7448d8"/>
<circle cx="736.2" cy="283.6" r="6" fill="url(#gShade)"/>
<path d="M767,283.6 L767.00,277.60 A6,6 0 0 1 772.91,282.56 Z" fill="#6cc2ee"/>
<path d="M767,283.6 L772.91,282.56 A6,6 0 0 1 761.91,286.78 Z" fill="#3a7ede"/>
<path d="M767,283.6 L761.91,286.78 A6,6 0 0 1 767.00,277.60 Z" fill="#7448d8"/>
<circle cx="767" cy="283.6" r="6" fill="url(#gShade)"/>
<path d="M797.8,283.6 L797.80,277.60 A6,6 0 0 1 803.71,282.56 Z" fill="#6cc2ee"/>
<path d="M797.8,283.6 L803.71,282.56 A6,6 0 0 1 792.71,286.78 Z" fill="#3a7ede"/>
<path d="M797.8,283.6 L792.71,286.78 A6,6 0 0 1 797.80,277.60 Z" fill="#7448d8"/>
<circle cx="797.8" cy="283.6" r="6" fill="url(#gShade)"/>
<path d="M828.6,283.6 L828.60,277.60 A6,6 0 0 1 834.51,282.56 Z" fill="#6cc2ee"/>
<path d="M828.6,283.6 L834.51,282.56 A6,6 0 0 1 823.51,286.78 Z" fill="#3a7ede"/>
<path d="M828.6,283.6 L823.51,286.78 A6,6 0 0 1 828.60,277.60 Z" fill="#7448d8"/>
<circle cx="828.6" cy="283.6" r="6" fill="url(#gShade)"/>
<circle cx="859.4" cy="283.6" r="6" fill="url(#gPale)"/>
<circle cx="890.2" cy="283.6" r="6.8" fill="#fff" stroke="#e8c8b0" stroke-width="0.9" stroke-dasharray="2 1"/>
<circle cx="921" cy="283.6" r="6" fill="url(#gP)"/>
<circle cx="951.8" cy="283.6" r="6" fill="url(#gPale)"/>
<circle cx="726.5" cy="270.5" r="3.5" fill="url(#gOc)"/>
<circle cx="757.3" cy="270.5" r="3.5" fill="url(#gOc)"/>
<circle cx="788.1" cy="270.5" r="3.5" fill="url(#gOc)"/>
<circle cx="818.9" cy="270.5" r="3.5" fill="url(#gOc)"/>
<circle cx="849.7" cy="270.5" r="3.5" fill="url(#gOc)"/>
<circle cx="880.5" cy="270.5" r="3.6" fill="#fff" stroke="#f0b088" stroke-width="0.9" stroke-dasharray="1.4 1"/>
<circle cx="911.3" cy="270.5" r="3.6" fill="#fff" stroke="#f0b088" stroke-width="0.9" stroke-dasharray="1.4 1"/>
<circle cx="942.1" cy="270.5" r="3.5" fill="url(#gOc)"/>
<circle cx="972.9" cy="270.5" r="3.5" fill="url(#gOc)"/>
<circle cx="716.1" cy="297" r="3.5" fill="url(#gOc)"/>
<circle cx="746.9" cy="297" r="3.5" fill="url(#gOc)"/>
<circle cx="777.7" cy="297" r="3.5" fill="url(#gOc)"/>
<circle cx="808.5" cy="297" r="3.5" fill="url(#gOc)"/>
<circle cx="839.3" cy="297" r="3.6" fill="#fff" stroke="#f0b088" stroke-width="0.9" stroke-dasharray="1.4 1"/>
<circle cx="870.1" cy="297" r="3.5" fill="url(#gOc)"/>
<circle cx="900.9" cy="297" r="3.5" fill="url(#gOc)"/>
<circle cx="931.7" cy="297" r="3.5" fill="url(#gOc)"/>
<circle cx="962.5" cy="297" r="3.5" fill="url(#gOc)"/>
<linearGradient id="ga3" gradientUnits="userSpaceOnUse" x1="0" y1="127.5" x2="0" y2="141.5"><stop offset="0" stop-color="#9cbce0"/><stop offset="1" stop-color="#2f6db5"/></linearGradient>
<path d="M875.1,127.5 A120.6,120.6 0 0 0 871.0,309.4" fill="none" stroke="url(#ga3)" stroke-width="1.25" stroke-dasharray="3 2.4"/>
<line x1="921.7" y1="134.4" x2="911.8" y2="129.8" stroke="#f2a266" stroke-width="1.3" stroke-dasharray="2 1.3"/>
<path d="M908.9,128.5 L912.6,128 L911,131.7 Z" fill="#f2a266"/>
<line x1="880.6" y1="160.3" x2="871.2" y2="170.5" stroke="#f2a266" stroke-width="1.3" stroke-dasharray="2 1.3"/>
<path d="M869,172.9 L869.7,169.2 L872.6,171.9 Z" fill="#f2a266"/>
<line x1="911.4" y1="160.3" x2="902.2" y2="169.7" stroke="#f2a266" stroke-width="1.3" stroke-dasharray="2 1.3"/>
<path d="M900,172 L900.8,168.3 L903.7,171.1 Z" fill="#f2a266"/>
<line x1="901.9" y1="203" x2="890.8" y2="197.4" stroke="#f2a266" stroke-width="1.3" stroke-dasharray="2 1.3"/>
<path d="M888,195.9 L891.8,195.6 L889.9,199.1 Z" fill="#f2a266"/>
<line x1="963.3" y1="203" x2="952.3" y2="197" stroke="#f2a266" stroke-width="1.3" stroke-dasharray="2 1.3"/>
<path d="M949.5,195.5 L953.3,195.3 L951.4,198.8 Z" fill="#f2a266"/>
<line x1="890.4" y1="229.5" x2="879.4" y2="239.5" stroke="#f2a266" stroke-width="1.3" stroke-dasharray="2 1.3"/>
<path d="M877,241.7 L878,238.1 L880.7,241 Z" fill="#f2a266"/>
<line x1="880.8" y1="270.5" x2="870.8" y2="263.1" stroke="#f2a266" stroke-width="1.3" stroke-dasharray="2 1.3"/>
<path d="M868.2,261.2 L872,261.5 L869.6,264.7 Z" fill="#f2a266"/>
<line x1="911.6" y1="270.5" x2="900.9" y2="264" stroke="#f2a266" stroke-width="1.3" stroke-dasharray="2 1.3"/>
<path d="M898.2,262.3 L902,262.3 L899.9,265.7 Z" fill="#f2a266"/>
<line x1="841" y1="297" x2="826.9" y2="303.3" stroke="#f2a266" stroke-width="1.3" stroke-dasharray="2 1.3"/>
<path d="M824,304.6 L826.1,301.5 L827.7,305.1 Z" fill="#f2a266"/>
<path d="M911,220.5 C902,221 893,226 896,240" fill="none" stroke="#3aa6c6" stroke-width="2"/>
<path d="M899.8,244.5 L892.6,238.6 L899,237.2 Z" fill="#3aa6c6"/>
<path d="M135.9,365.2 L869.1,365.2 L869.1,352.6 L952,373.7 L869.1,394.8 L869.1,383.6 L135.9,383.6 L170.3,374.4 Z" fill="url(#gArrow)"/>
<rect x="126.5" y="407.5" width="226.5" height="53" fill="#fff" stroke="#3a3a3a" stroke-width="1"/>
<rect x="419.5" y="407.5" width="245" height="53" fill="#fff" stroke="#3a3a3a" stroke-width="1"/>
<rect x="739.5" y="407.5" width="226" height="53" fill="#fff" stroke="#3a3a3a" stroke-width="1"/>
<text id="p1a" x="148.90" y="128.0" font-size="15.5" fill="#111" stroke="#111" stroke-width="0.2" textLength="49.27" lengthAdjust="spacingAndGlyphs"><tspan>LiTMO</tspan><tspan font-size="10.1" dy="4.60">2</tspan></text>
<text id="p1b" x="299.65" y="128.0" font-size="15.5" fill="#111" stroke="#111" stroke-width="0.2" textLength="55.78" lengthAdjust="spacingAndGlyphs"><tspan>Li</tspan><tspan font-size="10.1" dy="4.60">2</tspan><tspan dy="-4.60">MnO</tspan><tspan font-size="10.1" dy="4.60">3</tspan></text>
<text id="p2a" x="450.17" y="128.0" font-size="15.5" fill="#111" stroke="#111" stroke-width="0.2" textLength="51.29" lengthAdjust="spacingAndGlyphs"><tspan>LiTMO</tspan><tspan font-size="10.1" dy="4.60">2</tspan></text>
<text id="p2b" x="601.87" y="127.7" font-size="15.5" fill="#111" stroke="#111" stroke-width="0.2" textLength="55.50" lengthAdjust="spacingAndGlyphs"><tspan>Li</tspan><tspan font-size="10.1" dy="4.60">2</tspan><tspan dy="-4.60">MnO</tspan><tspan font-size="10.1" dy="4.60">3</tspan></text>
<text id="p3a" x="728.16" y="122.9" font-size="15.5" fill="#111" stroke="#111" stroke-width="0.2" textLength="49.96" lengthAdjust="spacingAndGlyphs"><tspan>LiTMO</tspan><tspan font-size="10.1" dy="4.60">2</tspan></text>
<text id="p3b" x="918.01" y="122.9" font-size="15.5" fill="#111" stroke="#111" stroke-width="0.2" textLength="56.39" lengthAdjust="spacingAndGlyphs"><tspan>Li</tspan><tspan font-size="10.1" dy="4.60">2</tspan><tspan dy="-4.60">MnO</tspan><tspan font-size="10.1" dy="4.60">3</tspan></text>
<text id="cap1" x="197.85" y="334.9" font-size="14.5" fill="#111" stroke="#111" stroke-width="0.2" textLength="85.69" lengthAdjust="spacingAndGlyphs"><tspan>Pristine state</tspan></text>
<text id="cap2" x="476.20" y="334.1" font-size="14.5" fill="#111" stroke="#111" stroke-width="0.2" textLength="144.87" lengthAdjust="spacingAndGlyphs"><tspan>Delithiation of LiTMO</tspan><tspan font-size="10.4" dy="4.35">2</tspan></text>
<text id="cap3" x="770.30" y="334.1" font-size="14.5" fill="#111" stroke="#111" stroke-width="0.2" textLength="150.11" lengthAdjust="spacingAndGlyphs"><tspan>Delithiation of Li</tspan><tspan font-size="10.4" dy="4.35">2</tspan><tspan dy="-4.35">MnO</tspan><tspan font-size="10.4" dy="4.35">3</tspan></text>
<text id="orel" x="796.35" y="187.8" font-size="12.8" fill="#111" stroke="#111" stroke-width="0.2" textLength="53.70" lengthAdjust="spacingAndGlyphs"><tspan>O release</tspan></text>
<text id="tmm" x="905.13" y="243.8" font-size="12.8" fill="#111" stroke="#111" stroke-width="0.2" textLength="74.28" lengthAdjust="spacingAndGlyphs"><tspan>TM migration</tspan></text>
<text id="ocv" x="183.89" y="378.8" font-size="13.5" fill="#0e1626" stroke="#0e1626" stroke-width="0.2" textLength="31.54" lengthAdjust="spacingAndGlyphs"><tspan>OCV</tspan></text>
<text id="v447" x="522.07" y="378.8" font-size="13.5" fill="#1a0e0e" stroke="#1a0e0e" stroke-width="0.2" textLength="41.09" lengthAdjust="spacingAndGlyphs"><tspan>4.47 V</tspan></text>
<text id="v48" x="875.91" y="378.6" font-size="13.5" fill="#1a0e0e" stroke="#1a0e0e" stroke-width="0.2" textLength="33.85" lengthAdjust="spacingAndGlyphs"><tspan>4.8 V</tspan></text>
<text id="b1a" x="169.28" y="429.7" font-size="13.2" fill="#1a1a1a" stroke="#1a1a1a" stroke-width="0.2" textLength="138.59" lengthAdjust="spacingAndGlyphs"><tspan>LiTMO</tspan><tspan font-size="9.8" dy="3.96">2</tspan><tspan dy="-3.96"> and Li</tspan><tspan font-size="9.8" dy="3.96">2</tspan><tspan dy="-3.96">MnO</tspan><tspan font-size="9.8" dy="3.96">3</tspan></text>
<text id="b1b" x="164.04" y="447.2" font-size="14.3" fill="#1a1a1a" stroke="#1a1a1a" stroke-width="0.2" textLength="148.42" lengthAdjust="spacingAndGlyphs"><tspan>domains mix randomly</tspan></text>
<text id="b2a" x="471.22" y="429.5" font-size="14.3" fill="#1a1a1a" stroke="#1a1a1a" stroke-width="0.2" textLength="133.75" lengthAdjust="spacingAndGlyphs"><tspan>Strain increases and</tspan></text>
<text id="b2b" x="442.64" y="447.3" font-size="14.3" fill="#1a1a1a" stroke="#1a1a1a" stroke-width="0.2" textLength="194.97" lengthAdjust="spacingAndGlyphs"><tspan>reaches a maximum at 4.47 V</tspan></text>
<text id="b3a" x="772.73" y="429.3" font-size="14.3" fill="#1a1a1a" stroke="#1a1a1a" stroke-width="0.2" textLength="160.30" lengthAdjust="spacingAndGlyphs"><tspan>Strain triggers O release</tspan></text>
<text id="b3b" x="794.25" y="447.1" font-size="14.3" fill="#1a1a1a" stroke="#1a1a1a" stroke-width="0.2" textLength="116.91" lengthAdjust="spacingAndGlyphs"><tspan>and TM migration</tspan></text>
<text x="89.2" y="218.3" font-size="13.6" fill="#111" stroke="#111" stroke-width="0.2">0</text>
<text id="strainbar" x="0" y="0" font-size="14" fill="#111" stroke="#111" stroke-width="0.2" transform="translate(62,246.00) rotate(-90)" textLength="63.00" lengthAdjust="spacingAndGlyphs">Strain bar</text>
<circle cx="58" cy="508.8" r="8.8" fill="none" stroke="#a4a4a4" stroke-width="1.9"/>
<text x="57.7" y="514.2" font-size="21" font-weight="bold" fill="#a4a4a4" text-anchor="middle" style="font-family:'Liberation Serif',serif">c</text>
<text x="69.8" y="518" font-size="39.5" font-weight="bold" fill="#a4a4a4" stroke="#a4a4a4" stroke-width="0.5" textLength="93.6" lengthAdjust="spacingAndGlyphs" style="font-family:'Liberation Serif',serif">nature</text>
</svg></body></html>
